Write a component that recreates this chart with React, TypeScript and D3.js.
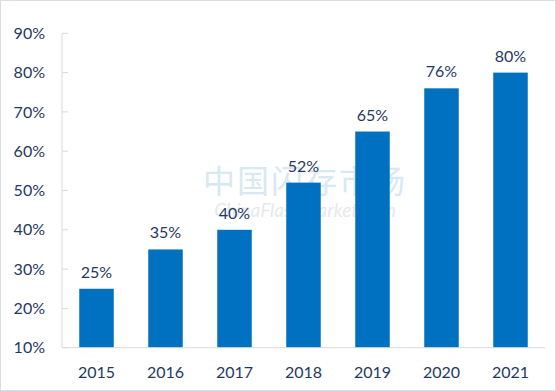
import { useEffect, useRef } from "react";
import * as d3 from "d3";

const years = ["2015", "2016", "2017", "2018", "2019", "2020", "2021"];
const shares = [25, 35, 40, 52, 65, 76, 80];
const yTicks = [10, 20, 30, 40, 50, 60, 70, 80, 90];

export default function App() {
  const ref = useRef<SVGSVGElement>(null);

  useEffect(() => {
    const width = 556;
    const height = 391;
    const left = 62, right = 545, top = 33.3, bottom = 347.7;
    const font = "Lato, 'Open Sans', sans-serif";
    const textColor = "#1f3864";

    const svg = d3.select(ref.current);
    svg.selectAll("*").remove();

    svg.append("rect")
      .attr("x", 0.5).attr("y", 0.5)
      .attr("width", width - 1).attr("height", height - 1)
      .attr("fill", "#fff")
      .attr("stroke", "#d9dee6");

    const x = d3.scaleBand()
      .domain(years)
      .range([left, right])
      .paddingInner(0.5)
      .paddingOuter(0.25);

    const y = d3.scaleLinear()
      .domain([10, 90])
      .range([bottom, top]);

    // watermark
    svg.append("text")
      .attr("x", 305).attr("y", 193)
      .attr("text-anchor", "middle")
      .attr("font-family", "'Noto Sans CJK SC', sans-serif")
      .attr("font-size", 32)
      .attr("letter-spacing", 2)
      .attr("fill", "#d8e9f2")
      .text("中国闪存市场");
    svg.append("text")
      .attr("x", 305).attr("y", 217)
      .attr("text-anchor", "middle")
      .attr("font-family", font)
      .attr("font-style", "italic")
      .attr("font-size", 19)
      .attr("fill", "#e6e9ec")
      .text("ChinaFlashMarket.com");

    // y axis
    svg.append("line")
      .attr("x1", left).attr("x2", left)
      .attr("y1", top).attr("y2", bottom)
      .attr("stroke", "#d9d9d9");
    svg.selectAll(".ytick")
      .data(yTicks)
      .enter()
      .append("line")
      .attr("x1", left).attr("x2", left + 6)
      .attr("y1", d => y(d)).attr("y2", d => y(d))
      .attr("stroke", "#d9d9d9");
    svg.selectAll(".ylab")
      .data(yTicks)
      .enter()
      .append("text")
      .attr("x", 45)
      .attr("y", d => y(d))
      .attr("dy", "0.35em")
      .attr("text-anchor", "end")
      .attr("font-family", font)
      .attr("font-size", 16)
      .attr("fill", textColor)
      .text(d => d + "%");

    // bars
    svg.selectAll(".bar")
      .data(shares)
      .enter()
      .append("rect")
      .attr("x", (d, i) => x(years[i])!)
      .attr("y", d => y(d))
      .attr("width", x.bandwidth())
      .attr("height", d => bottom - y(d))
      .attr("fill", "#0070c0");

    svg.selectAll(".val")
      .data(shares)
      .enter()
      .append("text")
      .attr("x", (d, i) => x(years[i])! + x.bandwidth() / 2)
      .attr("y", d => y(d) - 11)
      .attr("text-anchor", "middle")
      .attr("font-family", font)
      .attr("font-size", 16)
      .attr("fill", textColor)
      .text(d => d + "%");

    // x axis
    svg.append("line")
      .attr("x1", left).attr("x2", right)
      .attr("y1", bottom).attr("y2", bottom)
      .attr("stroke", "#d9d9d9");
    svg.selectAll(".xlab")
      .data(years)
      .enter()
      .append("text")
      .attr("x", d => x(d)! + x.bandwidth() / 2)
      .attr("y", 378)
      .attr("text-anchor", "middle")
      .attr("font-family", font)
      .attr("font-size", 16)
      .attr("fill", textColor)
      .text(d => d);
  }, []);

  return (
    <svg ref={ref} width={556} height={391}
      style={{ position: "absolute", left: 0, top: 0, display: "block" }} />
  );
}
